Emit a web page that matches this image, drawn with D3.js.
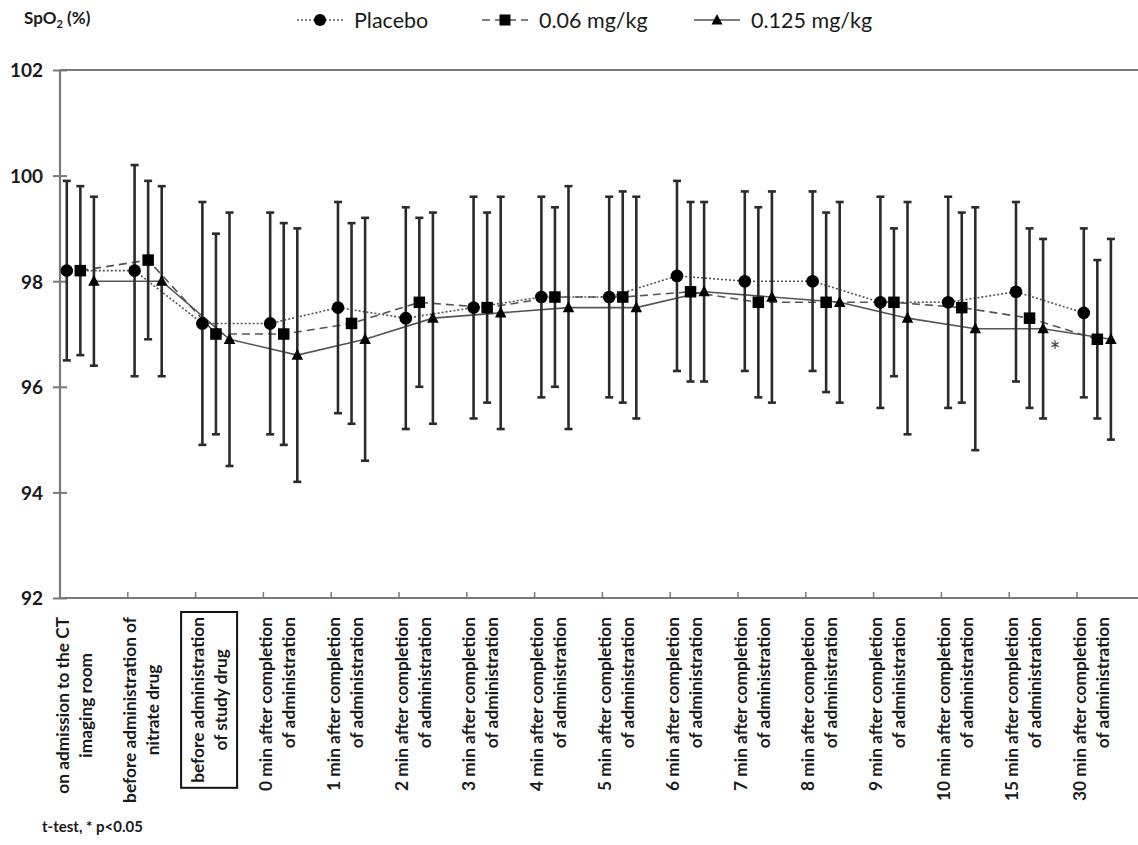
<!DOCTYPE html>
<html>
<head>
<meta charset="utf-8">
<script src="https://cdn.jsdelivr.net/npm/d3@7/dist/d3.min.js"></script>
<style>
  html, body { margin: 0; padding: 0; background: #fff; }
  svg { display: block; }
</style>
</head>
<body>
<script>
// ---------------- data ----------------
const categories = [
  ["on admission to the CT", "imaging room"],
  ["before administration of", "nitrate drug"],
  ["before administration", "of study drug"],
  ["0 min after completion", "of administration"],
  ["1 min after completion", "of administration"],
  ["2 min after completion", "of administration"],
  ["3 min after completion", "of administration"],
  ["4 min after completion", "of administration"],
  ["5 min after completion", "of administration"],
  ["6 min after completion", "of administration"],
  ["7 min after completion", "of administration"],
  ["8 min after completion", "of administration"],
  ["9 min after completion", "of administration"],
  ["10 min after completion", "of administration"],
  ["15 min after completion", "of administration"],
  ["30 min after completion", "of administration"]
];
const seriesNames = ["Placebo", "0.06 mg/kg", "0.125 mg/kg"];
const placeboMean = [98.2, 98.2, 97.2, 97.2, 97.5, 97.3, 97.5, 97.7, 97.7, 98.1, 98.0, 98.0, 97.6, 97.6, 97.8, 97.4];
const placeboSD   = [1.7, 2.0, 2.3, 2.1, 2.0, 2.1, 2.1, 1.9, 1.9, 1.8, 1.7, 1.7, 2.0, 2.0, 1.7, 1.6];
const lowMean     = [98.2, 98.4, 97.0, 97.0, 97.2, 97.6, 97.5, 97.7, 97.7, 97.8, 97.6, 97.6, 97.6, 97.5, 97.3, 96.9];
const lowSD       = [1.6, 1.5, 1.9, 2.1, 1.9, 1.6, 1.8, 1.7, 2.0, 1.7, 1.8, 1.7, 1.4, 1.8, 1.7, 1.5];
const highMean    = [98.0, 98.0, 96.9, 96.6, 96.9, 97.3, 97.4, 97.5, 97.5, 97.8, 97.7, 97.6, 97.3, 97.1, 97.1, 96.9];
const highSD      = [1.6, 1.8, 2.4, 2.4, 2.3, 2.0, 2.2, 2.3, 2.1, 1.7, 2.0, 1.9, 2.2, 2.3, 1.7, 1.9];
const yTicks = [92, 94, 96, 98, 100, 102];
const boxedCategory = 2;          // label drawn inside a box
const centeredLabelCount = 3;     // first labels: second line centred
const significantIndex = 14;      // "*" marker (15 min)
const yAxisTitle = "SpO";
const footnote = "t-test, * p<0.05";

// ---------------- layout ----------------
const W = 1138, H = 845;
const plotLeft = 60, plotTop = 70, plotBottom = 598, catW = 67.8;
const svg = d3.select("body").append("svg").attr("width", W).attr("height", H)
  .style("font-family", "Lato, 'Open Sans', sans-serif");
svg.append("rect").attr("width", W).attr("height", H).attr("fill", "#fff");

const x = d3.scaleBand().domain(d3.range(categories.length))
  .range([plotLeft, plotLeft + catW * categories.length]).paddingInner(0).paddingOuter(0);
const y = d3.scaleLinear().domain([92, 102]).range([plotBottom, plotTop]);

const series = [
  { name: seriesNames[0], mean: placeboMean, sd: placeboSD, off: -0.4, dash: "2,2", shape: "circle" },
  { name: seriesNames[1], mean: lowMean, sd: lowSD, off: -0.2, dash: "8,5", shape: "square" },
  { name: seriesNames[2], mean: highMean, sd: highSD, off: 0, dash: null, shape: "triangle" }
];
const cx = (s, i) => x(i) + x.bandwidth() / 2 + s.off * x.bandwidth();

// frame lines
const axisCol = "#7a7a7a";
svg.append("line").attr("x1", plotLeft).attr("x2", W).attr("y1", y(102)).attr("y2", y(102))
  .attr("stroke", axisCol).attr("stroke-width", 2.2);
svg.append("line").attr("x1", plotLeft).attr("x2", W).attr("y1", y(92)).attr("y2", y(92))
  .attr("stroke", axisCol).attr("stroke-width", 2.2);
svg.append("line").attr("x1", plotLeft).attr("x2", plotLeft).attr("y1", y(102)).attr("y2", y(92))
  .attr("stroke", axisCol).attr("stroke-width", 2.2);

// y axis ticks + labels
const yAxis = d3.axisLeft(y).tickValues(yTicks).tickSize(0).tickPadding(0);
const gy = svg.append("g").attr("transform", `translate(${plotLeft},0)`).call(yAxis);
gy.select(".domain").remove();
gy.selectAll(".tick").append("line").attr("x1", -7).attr("x2", 7)
  .attr("stroke", axisCol).attr("stroke-width", 2);
gy.selectAll(".tick text").attr("x", -17).attr("dy", "0.36em")
  .style("font-family", "Lato, sans-serif").style("font-size", "19px").style("font-weight", "bold")
  .attr("fill", "#1a1a1a");

// x category boundary ticks
const bounds = d3.range(1, categories.length);
svg.selectAll(".xt").data(bounds).join("line")
  .attr("x1", d => x(d)).attr("x2", d => x(d))
  .attr("y1", y(92) - 6).attr("y2", y(92))
  .attr("stroke", axisCol).attr("stroke-width", 1.5);

// series lines
const lineCol = "#555";
series.forEach(s => {
  const ln = d3.line().x((d, i) => cx(s, i)).y(d => y(d));
  svg.append("path").datum(s.mean).attr("d", ln).attr("fill", "none")
    .attr("stroke", lineCol).attr("stroke-width", 1.6)
    .attr("stroke-dasharray", s.dash);
});

// error bars
const barCol = "#2b2b2b";
series.forEach(s => {
  const g = svg.append("g");
  s.mean.forEach((m, i) => {
    const xx = cx(s, i);
    const hi = y(m + s.sd[i]), lo = y(m - s.sd[i]);
    g.append("line").attr("x1", xx).attr("x2", xx).attr("y1", hi).attr("y2", lo)
      .attr("stroke", barCol).attr("stroke-width", 2.6);
    [hi, lo].forEach(yy => g.append("line").attr("x1", xx - 4).attr("x2", xx + 4)
      .attr("y1", yy).attr("y2", yy).attr("stroke", barCol).attr("stroke-width", 2.6));
  });
});

// markers
function marker(g, shape, px, py, sz) {
  if (shape === "circle") g.append("circle").attr("cx", px).attr("cy", py).attr("r", sz * 0.55).attr("fill", "#000");
  else if (shape === "square") g.append("rect").attr("x", px - sz / 2).attr("y", py - sz / 2)
    .attr("width", sz).attr("height", sz).attr("fill", "#000");
  else g.append("path").attr("d", `M${px},${py - sz * 0.55}L${px + sz * 0.5},${py + sz * 0.4}L${px - sz * 0.5},${py + sz * 0.4}Z`).attr("fill", "#000");
}
series.forEach(s => {
  const g = svg.append("g");
  s.mean.forEach((m, i) => marker(g, s.shape, cx(s, i), y(m), 11.5));
});

// significance asterisk
svg.append("text").attr("x", cx(series[2], significantIndex) + 12).attr("y", y(highMean[significantIndex]) + 32)
  .attr("text-anchor", "middle").attr("fill", "#444").style("font-size", "26px").text("*");

// category labels (rotated, two lines)
const labelTop = 617;
const labFont = { "font-size": "17.3px", "font-weight": "bold" };
categories.forEach((lines, i) => {
  const g = svg.append("g");
  const t1 = g.append("text").attr("transform", `translate(${x(i) + 2},${labelTop}) rotate(-90)`)
    .attr("text-anchor", "end").attr("dominant-baseline", "central")
    .style("font-size", labFont["font-size"]).style("font-weight", labFont["font-weight"])
    .attr("fill", "#1a1a1a").text(lines[0]);
  const L1 = t1.node().getComputedTextLength();
  const centered = i < centeredLabelCount;
  g.append("text").attr("transform", `translate(${x(i) + 25},${centered ? labelTop + L1 / 2 : labelTop}) rotate(-90)`)
    .attr("text-anchor", centered ? "middle" : "end").attr("dominant-baseline", "central")
    .style("font-size", labFont["font-size"]).style("font-weight", labFont["font-weight"])
    .attr("fill", "#1a1a1a").text(lines[1]);
  if (i === boxedCategory) {
    const bb = g.node().getBBox();
    g.append("rect").attr("x", bb.x - 6).attr("y", bb.y - 5).attr("width", bb.width + 12).attr("height", bb.height + 10)
      .attr("fill", "none").attr("stroke", "#111").attr("stroke-width", 2);
  }
});

// footnote
svg.append("text").attr("x", 42).attr("y", 832).style("font-size", "15px").style("font-weight", "bold")
  .attr("fill", "#1a1a1a").text(footnote);

// y axis title with subscript
const yt = svg.append("text").attr("x", 24).attr("y", 24).style("font-size", "17px").style("font-weight", "bold").attr("fill", "#1a1a1a");
yt.append("tspan").text(yAxisTitle);
yt.append("tspan").attr("dy", 4).style("font-size", "11px").text("2");
yt.append("tspan").attr("dy", -4).text(" (%)");

// legend
const legX = [297, 482, 694];
const leg = svg.append("g");
series.forEach((s, k) => {
  const lx = legX[k], ly = 20;
  leg.append("line").attr("x1", lx).attr("x2", lx + 46).attr("y1", ly).attr("y2", ly)
    .attr("stroke", lineCol).attr("stroke-width", 1.6).attr("stroke-dasharray", s.dash);
  marker(leg, s.shape, lx + 23, ly, 11);
  leg.append("text").attr("x", lx + 57).attr("y", ly).attr("dominant-baseline", "central")
    .style("font-size", "21.5px").attr("fill", "#1a1a1a").text(s.name);
});
</script>
</body>
</html>
